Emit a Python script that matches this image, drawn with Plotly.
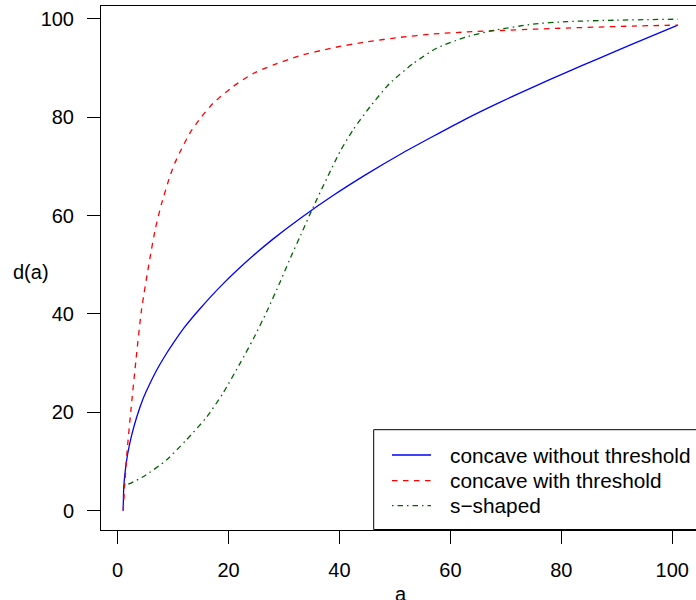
import plotly.graph_objects as go

# ---- data ----
a_concave = [1, 1.1, 1.3, 1.8, 2.5, 3.4, 4.6, 5.8, 7, 8.5, 10, 12, 14.8, 19, 24.2, 28, 32.9,
             38.9, 44.9, 50.9, 56.9, 62.9, 68.9, 74.9, 80.9, 86.9, 92.9, 101]
d_concave = [0, 4.6, 7.4, 11.5, 15.2, 18.9, 22.8, 25.8, 28.5, 31.4, 34, 37.2, 41.0, 46.1,
             51.6, 55.2, 59.4, 64.1, 68.4, 72.4, 76.1, 79.7, 83.0, 86.1, 89.1, 92.0, 94.9, 98.7]

a_thresh = [1, 1.3, 1.7, 2.4, 3.3, 4.3, 5.8, 6.8, 7.9, 9.4, 10.3, 11.2, 13, 14.8, 17.2, 20.8,
            24.5, 28.1, 32.6, 38.9, 44.9, 50.9, 56.9, 62.9, 68.9, 80.9, 92.9, 101]
d_thresh = [0, 5.5, 12, 20.5, 30.6, 40.8, 51.2, 57.3, 62.3, 67.9, 70.6, 72.8, 76.7, 79.6,
            82.8, 86.2, 88.9, 90.6, 92.4, 94.1, 95.3, 96.2, 96.9, 97.3, 97.6, 98.1, 98.5, 98.7]

a_sshape = [1, 4.6, 8.8, 12.4, 16.1, 19, 22.1, 24.5, 26.9, 29.3, 31, 33, 35.3, 37.7,
            40.1, 42.5, 45.5, 49.1, 53.3, 57.5, 62.9, 67.7, 74.9, 80.9, 89.9, 101]
d_sshape = [4.9, 6.9, 10.3, 14.4, 19.1, 23.9, 30, 35, 40.5, 46.5, 51, 56, 61.8, 67.5,
            73, 77.5, 82.1, 86.9, 90.9, 94, 96.3, 97.6, 98.9, 99.4, 99.7, 99.9]

series_names = ["concave without threshold", "concave with threshold", "s\u2212shaped"]
series_colors = ["#0000FF", "#FF0000", "#006400"]
series_dash = ["solid", "5.5px,5.5px", "1.5px,4px,5.5px,4px"]

x_ticks = [0, 20, 40, 60, 80, 100]
y_ticks = [0, 20, 40, 60, 80, 100]

FONT = "Liberation Sans, Arial, Helvetica, sans-serif"
W, H = 696, 600
ML, MT, MB, MR = 101, 6, 70, 0
PW = W - ML - MR
PH = H - MT - MB


def px_x(px):
    return (px - ML) / PW


def px_y(py):
    return (H - MB - py) / PH


fig = go.Figure()
for xs, ys, name, col, dash in zip([a_concave, a_thresh, a_sshape],
                                   [d_concave, d_thresh, d_sshape],
                                   series_names, series_colors, series_dash):
    fig.add_trace(go.Scatter(x=xs, y=ys, mode="lines", name=name,
                             line=dict(color=col, width=1.3, dash=dash,
                                       shape="spline", smoothing=0.6),
                             showlegend=False, hoverinfo="skip"))

fig.update_layout(
    width=W, height=H,
    margin=dict(l=ML, r=MR, t=MT, b=MB, pad=0),
    paper_bgcolor="white", plot_bgcolor="white",
    font=dict(family=FONT, size=20, color="black"),
    xaxis=dict(range=[-3, 104.28], tickvals=x_ticks, ticks="outside", ticklen=13,
               tickwidth=1, tickcolor="black", showline=True, linecolor="black",
               linewidth=1, mirror=True, showgrid=False, zeroline=False,
               ticklabelstandoff=9,
               tickfont=dict(size=20, family=FONT)),
    yaxis=dict(range=[-3.92, 102.58], tickvals=y_ticks, ticks="outside", ticklen=13,
               tickwidth=1, tickcolor="black", showline=True, linecolor="black",
               linewidth=1, mirror=False, showgrid=False, zeroline=False,
               ticklabelstandoff=9,
               tickfont=dict(size=20, family=FONT)),
)

shapes = []
annotations = []
# legend box (extends past the right edge, as in the reference)
shapes.append(dict(type="rect", xref="paper", yref="paper",
                   x0=px_x(373.7), x1=px_x(720), y0=px_y(529.5), y1=px_y(429.7),
                   line=dict(color="black", width=1), fillcolor="white", layer="above"))
rows = [455, 480.7, 505.7]
for ry, name, col, dash in zip(rows, series_names, series_colors, series_dash):
    shapes.append(dict(type="line", xref="paper", yref="paper",
                       x0=px_x(392), x1=px_x(431), y0=px_y(ry), y1=px_y(ry),
                       line=dict(color=col, width=1.3, dash=dash), layer="above"))
    annotations.append(dict(text=name, xref="paper", yref="paper",
                            x=px_x(448), y=px_y(ry), xanchor="left", yanchor="middle",
                            showarrow=False, font=dict(size=20.8, family=FONT)))

# axis titles
annotations.append(dict(text="a", xref="paper", yref="paper", x=px_x(401), y=px_y(594),
                        xanchor="center", yanchor="middle", showarrow=False,
                        font=dict(size=20, family=FONT)))
annotations.append(dict(text="d(a)", xref="paper", yref="paper", x=px_x(31), y=px_y(272),
                        xanchor="center", yanchor="middle", showarrow=False,
                        font=dict(size=20, family=FONT)))

fig.update_layout(shapes=shapes, annotations=annotations)
fig.write_html("out.html", config={"displayModeBar": False},
               post_script="document.body.style.margin='0';document.body.style.overflow='hidden';")
